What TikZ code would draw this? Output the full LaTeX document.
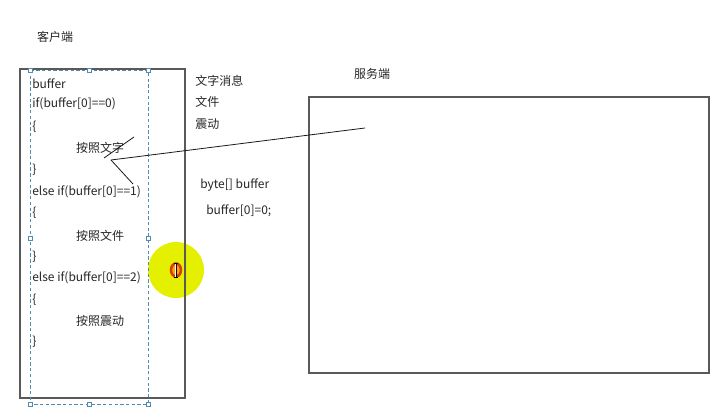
\documentclass[tikz,border=0pt]{standalone}
\usepackage{fontspec}
\setmainfont{Noto Sans CJK SC}
\definecolor{selblue}{RGB}{80,140,175}
\definecolor{marker}{RGB}{228,240,0}
\definecolor{ring}{RGB}{215,60,0}
\begin{document}
\begin{tikzpicture}[>=stealth, x=0.75pt, y=-0.75pt,
  font=\fontsize{9}{10.5}\selectfont,
  txt/.style={inner sep=0pt, anchor=west, text=black!85},
  mid/.style={inner sep=0pt, text=black!85},
  box/.style={draw=black!65, line width=0.8pt},
  handle/.style={draw=selblue, fill=white, line width=0.4pt, minimum size=3.2pt, inner sep=0pt}]
\useasboundingbox (0,0) rectangle (725,417);
% cursor marker
\coordinate(cur) at (176,270);
\fill[marker](cur) circle (28);
\draw[ring, line width=1.9pt, fill=orange!70!yellow](cur) ellipse (5 and 6.5);
\draw[white, line width=1.6pt](176,263)--(176,277);
\draw[black, line width=0.6pt](176,263)--(176,277);
\draw[black, line width=0.5pt](174,263)--(178,263) (174,277)--(178,277);
% client side
\node[mid](client) at (55,37){客户端};
\draw[box](20,69) rectangle (185,398);
\draw[selblue, line width=0.5pt, dash pattern=on 2.5pt off 1.8pt](30,70) rectangle (148,404);
\foreach \hx/\hy [count=\i] in {30/70,89/70,148/70,30/238,148/238,30/404,89/404,148/404}
  \node[handle](h\i) at (\hx,\hy){};
\node[txt](buf) at (32,84){buffer};
\node[txt](if0) at (32,104){if(buffer[0]==0)};
\node[txt](ob0) at (32,127){\{};
\node[mid](act0) at (100,148){按照文字};
\node[txt](cb0) at (32,170){\}};
\node[txt](if1) at (32,192){else if(buffer[0]==1)};
\node[txt](ob1) at (32,213){\{};
\node[mid](act1) at (100,236){按照文件};
\node[txt](cb1) at (32,257){\}};
\node[txt](if2) at (32,278){else if(buffer[0]==2)};
\node[txt](ob2) at (32,300){\{};
\node[mid](act2) at (100,321){按照震动};
\node[txt](cb2) at (32,342){\}};
% message kinds
\node[txt](kind0) at (195,81){文字消息};
\node[txt](kind1) at (195,102){文件};
\node[txt](kind2) at (195,124){震动};
\node[txt](decl) at (200,185){byte[] buffer};
\node[txt](init) at (206,211){buffer[0]=0;};
% server side
\node[mid](server) at (372,74){服务端};
\draw[box](309,97) rectangle (709,373);
% hand drawn arrow
\coordinate(tail) at (365,128);
\coordinate(tip) at (111,160);
\coordinate(wingA0) at (104,158);
\coordinate(wingA1) at (134,137);
\coordinate(wingB1) at (133,184);
\draw[black!90, line width=0.6pt](tail)--(tip);
\draw[black!90, line width=0.6pt](wingA0)--(wingA1);
\draw[black!90, line width=0.6pt](tip)--(wingB1);
\end{tikzpicture}
\end{document}
